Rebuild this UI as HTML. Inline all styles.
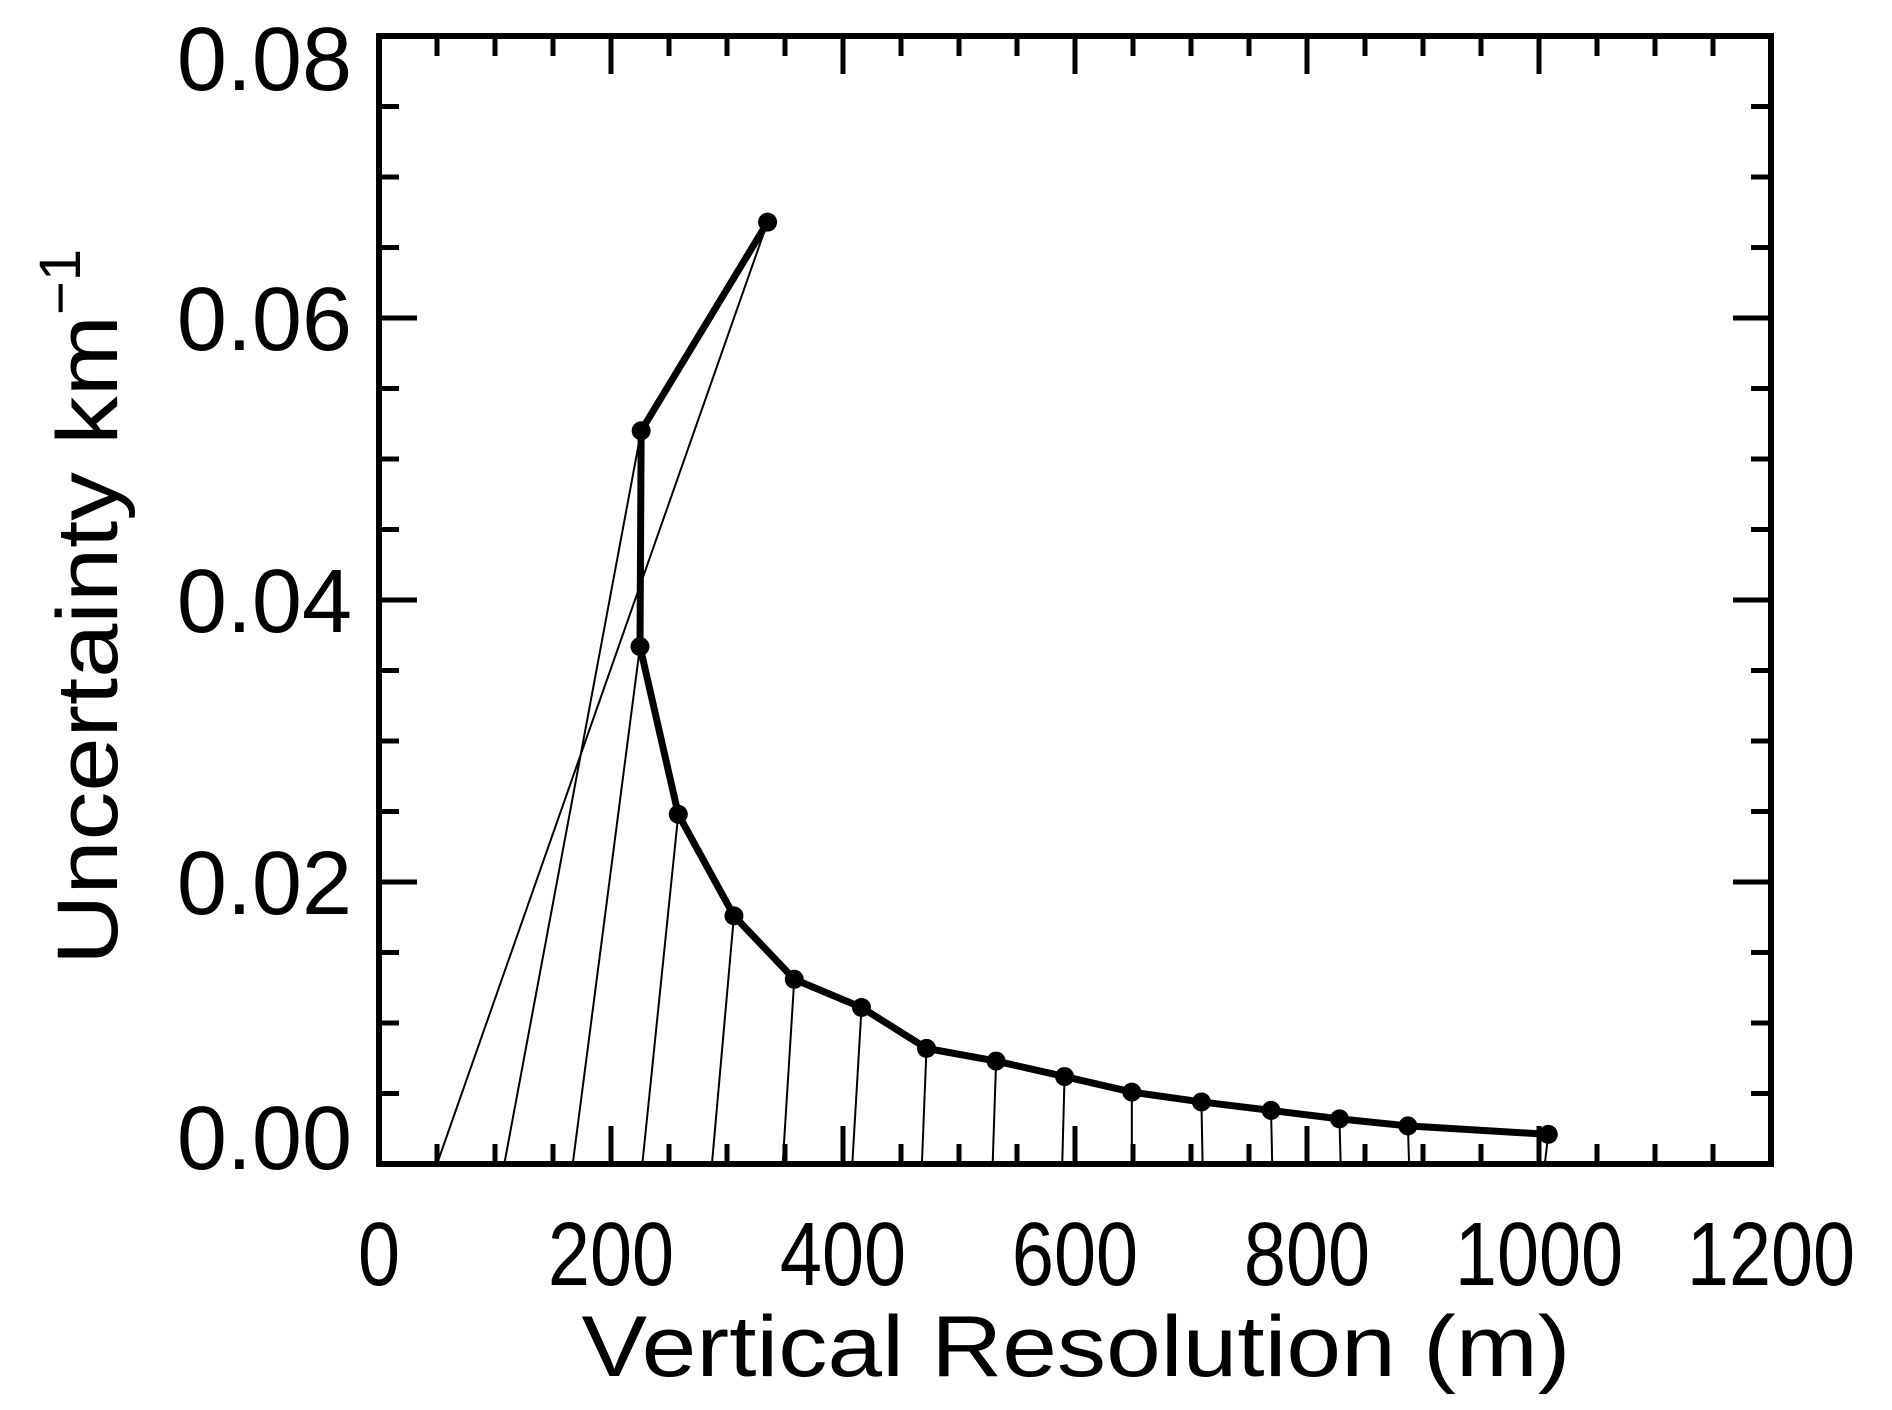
<!DOCTYPE html>
<html><head><meta charset="utf-8"><style>
html,body{margin:0;padding:0;background:#fff;}
svg{display:block;}
text{font-family:"Liberation Sans",sans-serif;fill:#000;}
</style></head><body>
<svg id="chart" width="1892" height="1410" viewBox="0 0 1892 1410" xmlns="http://www.w3.org/2000/svg">
<g id="axes"></g>
<g id="series"></g>
<text x="1076" y="1376" font-size="86" text-anchor="middle" textLength="989" lengthAdjust="spacingAndGlyphs">Vertical Resolution (m)</text>
<text transform="translate(117,965) rotate(-90)" font-size="86" textLength="650" lengthAdjust="spacingAndGlyphs">Uncertainty km</text>
<text transform="translate(80,315) rotate(-90)" font-size="58">−1</text>
</svg>
<script>
const resolution = [335, 226, 225, 258, 306, 358, 416, 472, 532, 591, 649, 709, 769, 828, 887, 1008];
const uncertainty = [0.0668, 0.0520, 0.0367, 0.0248, 0.0176, 0.0131, 0.0111, 0.0082, 0.0073, 0.0062, 0.0051, 0.0044, 0.0038, 0.0032, 0.0027, 0.0021];
const kernelCenters = [50, 108, 167, 227, 287, 348, 408, 468, 529, 589, 649, 710, 770, 829, 888, 1005];
const xTickLabels = ["0","200","400","600","800","1000","1200"];
const yTickLabels = ["0.00","0.02","0.04","0.06","0.08"];

const L=379,R=1771,T=36,B=1164;
const sx=v=>L+(v/1200)*(R-L);
const sy=v=>B-(v/0.08)*(B-T);
const NS="http://www.w3.org/2000/svg";
function mk(tag,attrs,parent){const e=document.createElementNS(NS,tag);for(const k in attrs)e.setAttribute(k,attrs[k]);parent.appendChild(e);return e;}
const axes=document.getElementById('axes');
const series=document.getElementById('series');

const fr=mk('rect',{x:L,y:T,width:R-L,height:B-T,fill:'none',stroke:'#000','stroke-width':6},axes);



for(let m=0;m<=1200;m+=50){
  const x=sx(m);const major=m%200===0;const len=major?38:20;
  const t1=mk('line',{x1:x,y1:B,x2:x,y2:B-len,stroke:'#000','stroke-width':5},axes);
  
  
  const t2=mk('line',{x1:x,y1:T,x2:x,y2:T+len,stroke:'#000','stroke-width':5},axes);
  
  
}
xTickLabels.forEach((s,i)=>{
  const t=mk('text',{x:sx(+s),y:1285,'font-size':90,'text-anchor':'middle',transform:`translate(${sx(+s)},0) scale(0.84,1) translate(${-sx(+s)},0)`},axes);
  t.textContent=s;
  
  
});
for(let k=0;k<=16;k++){
  const v=k*0.005;const y=sy(v);const major=k%4===0;const len=major?38:20;
  const t1=mk('line',{x1:L,y1:y,x2:L+len,y2:y,stroke:'#000','stroke-width':5},axes);
  
  
  const t2=mk('line',{x1:R,y1:y,x2:R-len,y2:y,stroke:'#000','stroke-width':5},axes);
  
  
}
yTickLabels.forEach(s=>{
  let cy=sy(+s);
  cy=Math.min(Math.max(cy,T+22),B-27);
  const t=mk('text',{x:352,y:cy+32,'font-size':90,'text-anchor':'end'},axes);
  t.textContent=s;
  
  
});

resolution.forEach((r,i)=>{
  const l=mk('line',{x1:sx(r),y1:sy(uncertainty[i]),x2:sx(kernelCenters[i]),y2:B,stroke:'#000','stroke-width':2},series);
  
  
});
const pts=resolution.map((r,i)=>sx(r)+','+sy(uncertainty[i])).join(' ');
const pl=mk('polyline',{points:pts,fill:'none',stroke:'#000','stroke-width':7,'stroke-linejoin':'round'},series);


resolution.forEach((r,i)=>{
  const c=mk('circle',{cx:sx(r),cy:sy(uncertainty[i]),r:9.5,fill:'#000'},series);
  
  
});
</script>
</body></html>
